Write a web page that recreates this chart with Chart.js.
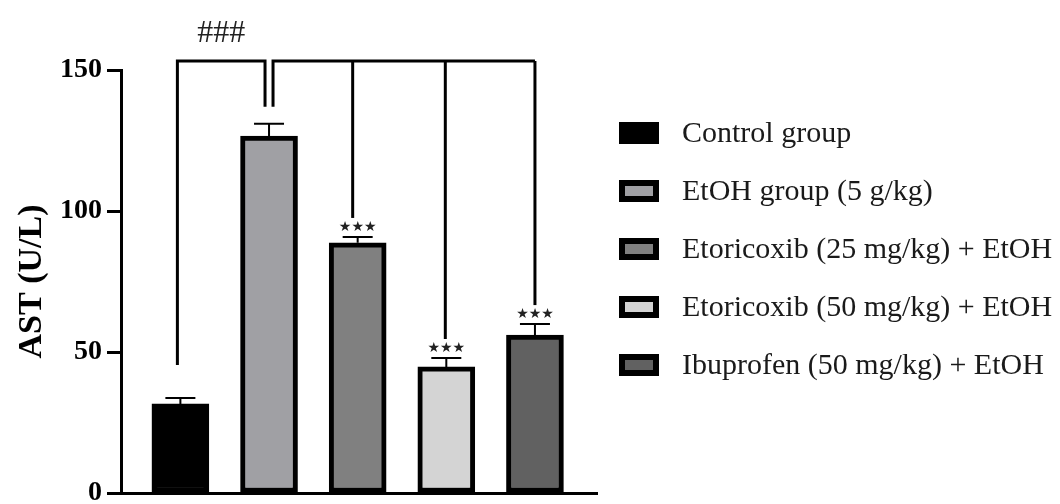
<!DOCTYPE html>
<html>
<head>
<meta charset="utf-8">
<script src="https://cdn.jsdelivr.net/npm/chart.js@4"></script>
<style>
  html, body { margin: 0; padding: 0; background: #fff; }
</style>
</head>
<body>
<canvas id="chart" width="1060" height="504"></canvas>
<script>
const groups = [
  'Control group',
  'EtOH group (5 g/kg)',
  'Etoricoxib (25 mg/kg) + EtOH',
  'Etoricoxib (50 mg/kg) + EtOH',
  'Ibuprofen (50 mg/kg) + EtOH',
];
const astMeans = [31.6, 126.6, 88.7, 44.7, 56.0];
const astErrors = [2.1, 4.3, 2.1, 3.2, 3.9];
const stars = ['', '', '***', '***', '***'];
const yTicks = [0, 50, 100, 150];

const fillColors = ['#000000', '#a0a0a4', '#808080', '#d4d4d4', '#616161'];
const serif = '"Liberation Serif", "Times New Roman", serif';

// error bars, significance brackets and stars
const annotations = {
  id: 'annotations',
  afterDatasetsDraw(chart) {
    const ctx = chart.ctx;
    const xs = chart.scales.x;
    const ys = chart.scales.y;
    const cx = (i) => xs.getPixelForValue(i + 1);
    const capTop = astMeans.map((v, i) => ys.getPixelForValue(v + astErrors[i]));

    ctx.save();
    ctx.strokeStyle = '#000';
    ctx.lineWidth = 2;
    astMeans.forEach((v, i) => {
      ctx.beginPath();
      ctx.moveTo(cx(i), ys.getPixelForValue(v));
      ctx.lineTo(cx(i), capTop[i]);
      ctx.moveTo(cx(i) - 15, capTop[i]);
      ctx.lineTo(cx(i) + 15, capTop[i]);
      ctx.stroke();
    });

    const top = ys.getPixelForValue(150) - 9;
    ctx.lineWidth = 3;
    ctx.lineJoin = 'miter';

    // control vs EtOH
    ctx.beginPath();
    ctx.moveTo(cx(0) - 3, capTop[0] - 33);
    ctx.lineTo(cx(0) - 3, top);
    ctx.lineTo(cx(1) - 4, top);
    ctx.lineTo(cx(1) - 4, capTop[1] - 17);
    ctx.stroke();

    // EtOH vs treatments
    const legX = [0, cx(1) + 4, cx(2) - 5, cx(3) - 1, cx(4)];
    ctx.beginPath();
    ctx.moveTo(legX[1], capTop[1] - 17);
    ctx.lineTo(legX[1], top);
    ctx.lineTo(legX[4], top);
    ctx.stroke();
    for (let i = 2; i < 5; i++) {
      ctx.beginPath();
      ctx.moveTo(legX[i], top);
      ctx.lineTo(legX[i], capTop[i] - 19);
      ctx.stroke();
    }

    ctx.fillStyle = '#222';
    ctx.textAlign = 'center';
    ctx.textBaseline = 'middle';
    ctx.font = '14px "DejaVu Sans"';
    stars.forEach((s, i) => {
      if (s) ctx.fillText('★★★', cx(i), capTop[i] - 10);
    });

    ctx.font = '32px ' + serif;
    ctx.fillText('###', (cx(0) - 3 + cx(1) - 4) / 2, top - 27);
    ctx.restore();
  },
};

const legendBlock = {
  id: 'legendBlock',
  afterDraw(chart) {
    const ctx = chart.ctx;
    ctx.save();
    ctx.font = '30px ' + serif;
    ctx.textBaseline = 'middle';
    chart.data.datasets.forEach((ds, i) => {
      const cy = 133 + i * 58;
      ctx.fillStyle = '#000';
      ctx.fillRect(619, cy - 11, 40, 22);
      ctx.fillStyle = ds.backgroundColor;
      ctx.fillRect(625, cy - 5, 28, 10);
      ctx.fillStyle = '#1a1a1a';
      ctx.fillText(ds.label, 682, cy + 1);
    });
    ctx.restore();
  },
};

new Chart(document.getElementById('chart'), {
  type: 'bar',
  data: {
    datasets: groups.map((g, i) => ({
      label: g,
      data: [{ x: i + 1, y: astMeans[i] }],
      backgroundColor: fillColors[i],
      borderColor: '#000',
      borderWidth: 5,
      borderSkipped: false,
      barThickness: 57,
      grouped: false,
    })),
  },
  options: {
    responsive: false,
    animation: false,
    devicePixelRatio: 1,
    layout: { padding: { left: 12, right: 463, top: 70, bottom: 0 } },
    plugins: { legend: { display: false }, tooltip: { enabled: false } },
    scales: {
      x: {
        type: 'linear',
        offset: false,
        min: 0.33,
        max: 5.7,
        ticks: { display: false },
        grid: { display: false, drawTicks: false },
        border: { color: '#000', width: 3 },
        afterFit: (s) => { s.height = 11; },
      },
      y: {
        min: 0,
        max: 150,
        afterBuildTicks: (s) => { s.ticks = yTicks.map((v) => ({ value: v })); },
        ticks: {
          color: '#000',
          padding: 5,
          font: { family: serif, size: 28, weight: 'bold' },
        },
        grid: {
          drawOnChartArea: false,
          tickLength: 14,
          tickWidth: 3,
          tickColor: '#000',
        },
        border: { color: '#000', width: 3 },
        title: {
          display: true,
          text: 'AST (U/L)',
          color: '#000',
          padding: 0,
          font: { family: serif, size: 34, weight: 'bold' },
        },
        afterFit: (s) => {
          s.width = 109;
          s.paddingTop = 0;
          s.paddingBottom = 0;
        },
      },
    },
  },
  plugins: [annotations, legendBlock],
});
</script>
</body>
</html>
